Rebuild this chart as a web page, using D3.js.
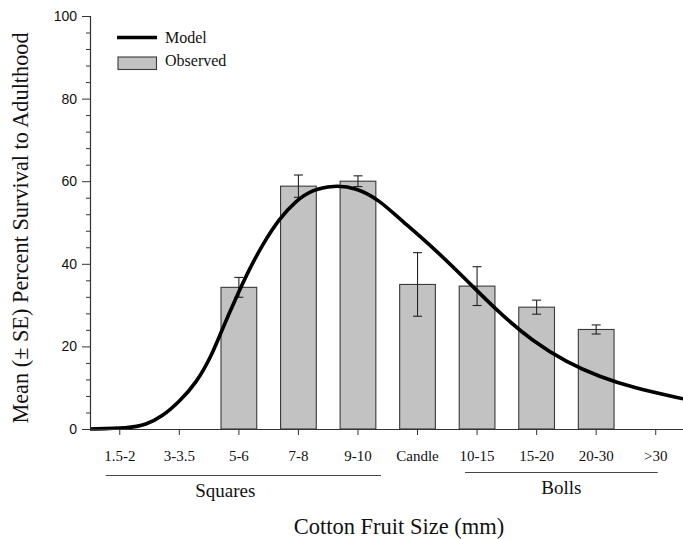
<!DOCTYPE html>
<html>
<head>
<meta charset="utf-8">
<script src="https://d3js.org/d3.v7.min.js"></script>
<style>
  body { margin: 0; background: #fff; }
  svg { display: block; }
</style>
</head>
<body>
<div id="chart"></div>
<script>
var categories = ["1.5-2", "3-3.5", "5-6", "7-8", "9-10", "Candle", "10-15", "15-20", "20-30", ">30"];
var observed = [null, null, 34.3, 58.8, 60.0, 35.0, 34.6, 29.5, 24.1, null];
var stdErr = [null, null, 2.4, 2.7, 1.3, 7.7, 4.7, 1.7, 1.1, null];

// model curve, x in category index units
var modelX = [-0.5, 0.15, 0.44, 0.71, 0.99, 1.28, 1.55, 1.70, 1.99, 2.17, 2.39, 2.68, 2.96, 3.23, 3.58, 3.97, 4.36, 4.69, 5.25, 5.82, 6.38, 6.93, 7.50, 8.06, 8.62, 9.46];
var modelY = [0, 0.2, 1.0, 3.0, 6.5, 11.0, 18.0, 23.5, 33.0, 38.5, 44.5, 51.0, 55.3, 57.9, 59.0, 58.5, 55.4, 51.0, 44.1, 36.1, 28.0, 21.3, 16.2, 12.6, 10.0, 7.3];

var yTicks = [0, 20, 40, 60, 80, 100];
var groups = [
    { label: "Squares", first: "1.5-2", last: "9-10" },
    { label: "Bolls", first: "10-15", last: ">30" }
];

var W = 683, H = 539;
var mLeft = 90, mRight = 685.5, mTop = 16, mBottom = 429;

var svg = d3.select("#chart").append("svg")
    .attr("width", W)
    .attr("height", H);

var x = d3.scaleBand().domain(categories).range([mLeft, mRight])
    .paddingInner(0.4).paddingOuter(0.2);
var xi = d3.scaleLinear().domain([-0.5, categories.length - 0.5]).range([mLeft, mRight]);
var y = d3.scaleLinear().domain([0, 100]).range([mBottom, mTop]);

var serif = "'Liberation Serif', 'Times New Roman', serif";
var sans = "'Liberation Sans', Arial, sans-serif";

// bars
var barData = categories.map(function (c, i) {
    return { cat: c, v: observed[i], se: stdErr[i] };
}).filter(function (d) { return d.v != null; });

svg.append("g").selectAll("rect")
    .data(barData)
    .enter().append("rect")
    .attr("x", function (d) { return x(d.cat); })
    .attr("y", function (d) { return y(d.v); })
    .attr("width", x.bandwidth())
    .attr("height", function (d) { return y(0) - y(d.v); })
    .attr("fill", "#c2c2c2")
    .attr("stroke", "#3a3a3a")
    .attr("stroke-width", 1.1);

// error bars
var eb = svg.append("g").attr("stroke", "#222").attr("stroke-width", 1.1);
barData.forEach(function (d) {
    var cx = x(d.cat) + x.bandwidth() / 2;
    eb.append("line").attr("x1", cx).attr("x2", cx)
        .attr("y1", y(d.v + d.se)).attr("y2", y(d.v - d.se));
    [d.v + d.se, d.v - d.se].forEach(function (v) {
        eb.append("line").attr("x1", cx - 4.5).attr("x2", cx + 4.5)
            .attr("y1", y(v)).attr("y2", y(v));
    });
});

// model curve
var line = d3.line()
    .x(function (d) { return xi(d[0]); })
    .y(function (d) { return y(d[1]); })
    .curve(d3.curveBasis);

svg.append("path")
    .datum(modelX.map(function (v, i) { return [v, modelY[i]]; }))
    .attr("fill", "none")
    .attr("stroke", "#000")
    .attr("stroke-width", 3.6)
    .attr("d", line);

// y axis
var yAxis = svg.append("g")
    .attr("transform", "translate(" + mLeft + ",0)")
    .call(d3.axisLeft(y).tickValues(yTicks).tickSize(8).tickPadding(5));
yAxis.select(".domain").attr("stroke", "#333").attr("stroke-width", 1.2);
yAxis.selectAll(".tick line").attr("stroke", "#333");
yAxis.selectAll("text").attr("font-family", sans).attr("font-size", 14).attr("fill", "#111");

svg.append("g")
    .attr("transform", "translate(" + mLeft + ",0)")
    .call(d3.axisLeft(y).tickValues(d3.range(0, 101, 4).filter(function (v) { return v % 20 !== 0; }))
        .tickSize(4).tickFormat(""))
    .call(function (g) { g.select(".domain").remove(); })
    .selectAll(".tick line").attr("stroke", "#333");

// x axis
var xAxis = svg.append("g")
    .attr("transform", "translate(0," + mBottom + ")")
    .call(d3.axisBottom(x).tickSize(6).tickPadding(15).tickSizeOuter(0));
xAxis.select(".domain").attr("stroke", "#333").attr("stroke-width", 1.2);
xAxis.selectAll(".tick line").attr("stroke", "#333");
xAxis.selectAll("text").attr("font-family", serif).attr("font-size", 15).attr("fill", "#111");

// group brackets
var grp = svg.append("g");
groups.forEach(function (g, k) {
    var x0 = x(g.first) + x.bandwidth() / 2 - (k === 0 ? 14 : 12);
    var x1 = x(g.last) + x.bandwidth() / 2 + (k === 0 ? 23 : 2);
    var ly = k === 0 ? 475.5 : 472.5;
    grp.append("line").attr("x1", x0).attr("x2", x1).attr("y1", ly).attr("y2", ly)
        .attr("stroke", "#444").attr("stroke-width", 1.2);
    grp.append("text")
        .attr("x", (x0 + x1) / 2 + (k === 0 ? -18 : 0))
        .attr("y", ly + 21)
        .attr("text-anchor", "middle")
        .attr("font-family", serif).attr("font-size", 19).attr("fill", "#111")
        .text(g.label);
});

// axis titles
svg.append("text")
    .attr("x", 399).attr("y", 534)
    .attr("text-anchor", "middle")
    .attr("font-family", serif).attr("font-size", 22.5).attr("fill", "#111")
    .text("Cotton Fruit Size (mm)");

svg.append("text")
    .attr("transform", "translate(28," + 228 + ") rotate(-90)")
    .attr("text-anchor", "middle")
    .attr("font-family", serif).attr("font-size", 22.3).attr("fill", "#111")
    .text("Mean (\u00b1 SE) Percent Survival to Adulthood");

// legend
var lg = svg.append("g");
lg.append("line").attr("x1", 117).attr("x2", 157).attr("y1", 37.5).attr("y2", 37.5)
    .attr("stroke", "#000").attr("stroke-width", 3.6);
lg.append("text").attr("x", 165).attr("y", 42.5)
    .attr("font-family", serif).attr("font-size", 16).attr("fill", "#111").text("Model");
lg.append("rect").attr("x", 118).attr("y", 57).attr("width", 38.5).attr("height", 12.5)
    .attr("fill", "#c2c2c2").attr("stroke", "#3a3a3a").attr("stroke-width", 1.1);
lg.append("text").attr("x", 165).attr("y", 66)
    .attr("font-family", serif).attr("font-size", 16).attr("fill", "#111").text("Observed");
</script>
</body>
</html>
